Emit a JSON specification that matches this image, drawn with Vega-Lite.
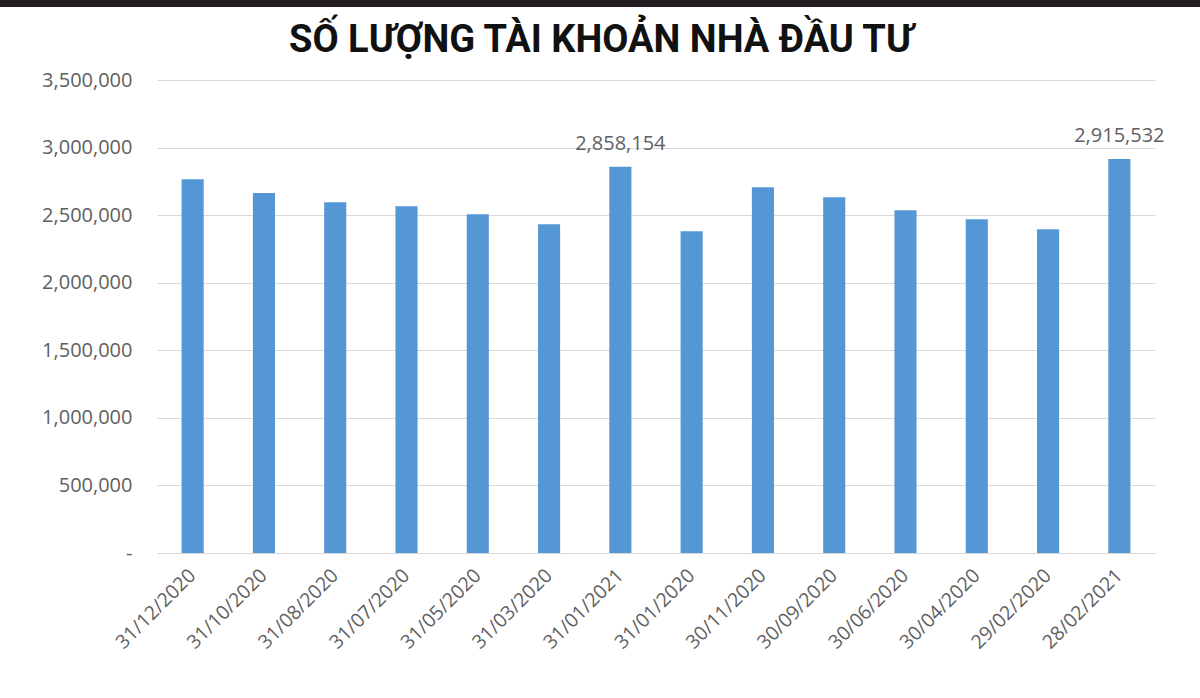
{
  "$schema": "https://vega.github.io/schema/vega-lite/v6.json",
  "padding": 0,
  "background": "white",
  "bounds": "flush",
  "spacing": 73,
  "data": {"values": [
    {"date": "31/12/2020", "accounts": 2766000},
    {"date": "31/10/2020", "accounts": 2663000},
    {"date": "31/08/2020", "accounts": 2596000},
    {"date": "31/07/2020", "accounts": 2566000},
    {"date": "31/05/2020", "accounts": 2507000},
    {"date": "31/03/2020", "accounts": 2433000},
    {"date": "31/01/2021", "accounts": 2858154},
    {"date": "31/01/2020", "accounts": 2381000},
    {"date": "30/11/2020", "accounts": 2707000},
    {"date": "30/09/2020", "accounts": 2633000},
    {"date": "30/06/2020", "accounts": 2537000},
    {"date": "30/04/2020", "accounts": 2470000},
    {"date": "29/02/2020", "accounts": 2396000},
    {"date": "28/02/2021", "accounts": 2915532}
  ]},
  "vconcat": [
    {
      "width": 1200,
      "height": 7,
      "view": {"fill": "#231f20", "stroke": null},
      "mark": {"type": "rect", "opacity": 0},
      "encoding": {}
    },
    {
      "bounds": "flush",
      "spacing": 0,
      "hconcat": [
        {
          "width": 157,
          "height": 473,
          "view": {"stroke": null},
          "mark": {"type": "rect", "opacity": 0},
          "encoding": {}
        },
        {
          "width": 998,
          "height": 473,
          "view": {"stroke": null},
          "title": {
            "text": "SỐ LƯỢNG TÀI KHOẢN NHÀ ĐẦU TƯ",
            "font": "Roboto",
            "fontSize": 38,
            "fontWeight": "bold",
            "color": "#111111",
            "anchor": "middle",
            "dx": -55,
            "offset": 10
          },
          "encoding": {
            "x": {
              "field": "date",
              "type": "nominal",
              "sort": null,
              "scale": {"paddingInner": 0.69, "paddingOuter": 0.345},
              "axis": {
                "title": null,
                "labelAngle": -45,
                "labelFont": "Open Sans",
                "labelFontSize": 19.5,
                "labelColor": "#5f5f5f",
                "labelPadding": 19,
                "ticks": false,
                "domain": true,
                "domainColor": "#d9d9d9",
                "labelAlign": "right",
                "labelBaseline": "middle"
              }
            },
            "y": {
              "field": "accounts",
              "type": "quantitative",
              "scale": {"domain": [0, 3500000]},
              "axis": {
                "title": null,
                "values": [0, 500000, 1000000, 1500000, 2000000, 2500000, 3000000, 3500000],
                "labelExpr": "datum.value == 0 ? '-' : format(datum.value, ',')",
                "labelFont": "Open Sans",
                "labelFontSize": 20,
                "labelColor": "#5f5f5f",
                "labelPadding": 25,
                "ticks": false,
                "domain": false,
                "gridColor": "#d9d9d9",
                "gridWidth": 1.2
              }
            }
          },
          "layer": [
            {"mark": {"type": "bar", "color": "#5596d4"}},
            {
              "transform": [{"filter": "datum.accounts > 2800000"}],
              "mark": {"type": "text", "font": "Open Sans", "fontSize": 20, "color": "#5f5f5f", "dy": -13, "baseline": "bottom"},
              "encoding": {"text": {"field": "accounts", "type": "quantitative", "format": ","}}
            }
          ]
        }
      ]
    }
  ]
}
